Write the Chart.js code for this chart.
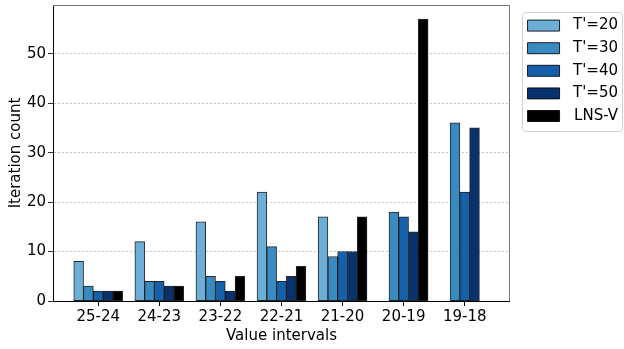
<!DOCTYPE html>
<html><head><meta charset="UTF-8">
<title>Iteration count per value interval</title>
<script src="https://cdn.jsdelivr.net/npm/chart.js@4"></script>
<style>
  html, body { margin: 0; padding: 0; background: #fff; }
  #wrap { width: 624px; height: 349px; }
</style></head>
<body>
<div id="wrap"><canvas id="c" width="624" height="349"></canvas></div>
<script>
// data
const intervals = ['25-24', '24-23', '23-22', '22-21', '21-20', '20-19', '19-18'];
const t20  = [8, 12, 16, 22, 17, 0, 0];
const t30  = [3, 4, 5, 11, 9, 18, 36];
const t40  = [2, 4, 4, 4, 10, 17, 22];
const t50  = [2, 3, 2, 5, 10, 14, 35];
const lnsV = [2, 3, 5, 7, 17, 57, 0];
const yTicks = [0, 10, 20, 30, 40, 50];

const seriesNames = ["T'=20", "T'=30", "T'=40", "T'=50", 'LNS-V'];
const seriesData = [t20, t30, t40, t50, lnsV];
const colors = ['#6baed6', '#3a8ac2', '#1560aa', '#08326e', '#000000'];
const barW = 0.16;

const datasets = seriesData.map((vals, j) => ({
  label: seriesNames[j],
  data: vals.map((v, i) => ({ x: i + (j - 2) * barW, y: v })),
  backgroundColor: colors[j],
  borderColor: 'rgba(0,0,0,0.85)',
  borderWidth: 1,
  borderSkipped: false,
  grouped: false,
  categoryPercentage: 1,
  barPercentage: 1
}));

// nudge the legend off the plot, like matplotlib's bbox_to_anchor
const legendShift = {
  id: 'legendShift',
  afterLayout(chart) {
    const lg = chart.legend;
    lg.left += 10; lg.right += 6;
    lg.top += 5.5; lg.bottom += 5.5;
  }
};

// box round the plot + frame round the legend
const frames = {
  id: 'frames',
  afterDraw(chart) {
    const { ctx, chartArea: a, legend } = chart;
    ctx.save();
    ctx.lineWidth = 1;
    ctx.strokeStyle = '#777';
    ctx.beginPath();
    ctx.moveTo(a.left, a.top + 0.5);
    ctx.lineTo(a.right - 0.5, a.top + 0.5);
    ctx.lineTo(a.right - 0.5, a.bottom);
    ctx.stroke();
    const hb = legend.legendHitBoxes;
    const last = hb[hb.length - 1];
    const top = hb[0].top - 6.5, bottom = last.top + last.height + 7.5;
    const left = hb[0].left - 6, right = legend.right + 5;
    ctx.strokeStyle = '#d0d0d0';
    ctx.beginPath();
    ctx.roundRect(Math.round(left) + 0.5, Math.round(top) + 0.5, Math.round(right - left) - 1, Math.round(bottom - top), 3);
    ctx.stroke();
    ctx.restore();
  }
};

new Chart(document.getElementById('c').getContext('2d'), {
  type: 'bar',
  data: { datasets },
  plugins: [legendShift, frames],
  options: {
    responsive: false,
    animation: false,
    layout: { padding: { left: 0, top: 5, right: 12, bottom: 0 } },
    plugins: {
      tooltip: { enabled: false },
      legend: {
        position: 'right',
        align: 'start',
        labels: {
          color: '#000',
          font: { family: 'DejaVu Sans', size: 15 },
          boxWidth: 32,
          boxHeight: 11,
          padding: 7.6,
          textAlign: 'right'
        }
      }
    },
    scales: {
      x: {
        type: 'linear',
        offset: false,
        min: -0.74,
        max: 6.74,
        afterBuildTicks: s => { s.ticks = intervals.map((_, i) => ({ value: i })); },
        afterFit: s => { s.height = 48; s.paddingLeft = 0; s.paddingRight = 0; },
        ticks: {
          callback: v => intervals[v],
          color: '#000',
          font: { family: 'DejaVu Sans', size: 15 },
          padding: 2,
          maxRotation: 0
        },
        grid: { offset: false, drawOnChartArea: false, tickLength: 5, tickColor: '#000' },
        border: { color: '#000', width: 1 },
        title: {
          display: true, text: 'Value intervals', color: '#000',
          font: { family: 'DejaVu Sans', size: 15 }, padding: { top: 2 }
        }
      },
      y: {
        min: 0,
        max: 59.85,
        afterBuildTicks: s => { s.ticks = yTicks.map(v => ({ value: v })); },
        afterFit: s => { s.width = 53; s.paddingTop = 0; s.paddingBottom = 0; },
        ticks: {
          color: '#000',
          font: { family: 'DejaVu Sans', size: 15 },
          padding: 2
        },
        grid: {
          color: '#b8b8b8',
          lineWidth: 0.8,
          tickLength: 5,
          tickColor: '#000',
          tickBorderDash: []
        },
        border: { color: '#000', width: 1, dash: [2, 2] },
        title: {
          display: true, text: 'Iteration count', color: '#000',
          font: { family: 'DejaVu Sans', size: 15 }, padding: { top: 7, bottom: 0 }
        }
      }
    }
  }
});
</script>
</body></html>
